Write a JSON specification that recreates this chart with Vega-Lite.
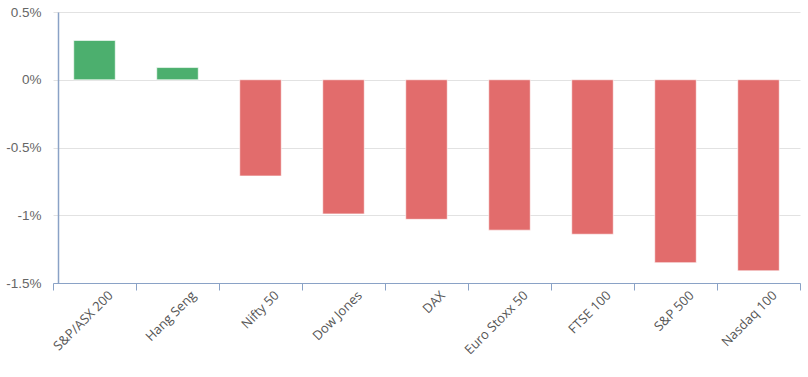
{
  "$schema": "https://vega.github.io/schema/vega-lite/v6.json",
  "width": 747,
  "height": 271,
  "autosize": {"type": "none"},
  "padding": {"left": 53, "top": 12, "right": 8, "bottom": 94},
  "background": "white",
  "config": {"view": {"stroke": null}},
  "data": {
    "values": [
      {"index": "S&P/ASX 200", "change": 0.29},
      {"index": "Hang Seng", "change": 0.09},
      {"index": "Nifty 50", "change": -0.71},
      {"index": "Dow Jones", "change": -0.99},
      {"index": "DAX", "change": -1.03},
      {"index": "Euro Stoxx 50", "change": -1.11},
      {"index": "FTSE 100", "change": -1.14},
      {"index": "S&P 500", "change": -1.35},
      {"index": "Nasdaq 100", "change": -1.41}
    ]
  },
  "mark": {"type": "bar", "width": {"band": 0.5}, "stroke": "#ffffff", "strokeWidth": 1, "strokeOpacity": 0.6},
  "encoding": {
    "x": {
      "field": "index",
      "type": "nominal",
      "sort": null,
      "scale": {"paddingInner": 0, "paddingOuter": 0},
      "axis": {
        "title": null,
        "tickBand": "extent",
        "domainColor": "#8aa2c6",
        "tickColor": "#8aa2c6",
        "tickSize": 7,
        "labelAngle": -45,
        "labelAlign": "right",
        "labelBaseline": "middle",
        "labelOffset": 16,
        "labelPadding": 3,
        "labelFont": "Open Sans",
        "labelFontSize": 13,
        "labelColor": "#555555",
        "grid": false
      }
    },
    "y": {
      "field": "change",
      "type": "quantitative",
      "scale": {"domain": [-1.5, 0.5], "nice": false},
      "axis": {
        "title": null,
        "values": [-1.5, -1, -0.5, 0, 0.5],
        "labelExpr": "datum.value + '%'",
        "offset": -5,
        "ticks": false,
        "tickSize": 0,
        "labelPadding": 17,
        "domainColor": "#8aa2c6",
        "domainWidth": 1.5,
        "grid": true,
        "gridColor": "#e2e2e2",
        "labelFont": "Liberation Sans",
        "labelFontSize": 13.5,
        "labelColor": "#666666"
      }
    },
    "color": {
      "condition": {"test": "datum.change > 0", "value": "#4caf6e"},
      "value": "#e26c6c"
    }
  }
}
